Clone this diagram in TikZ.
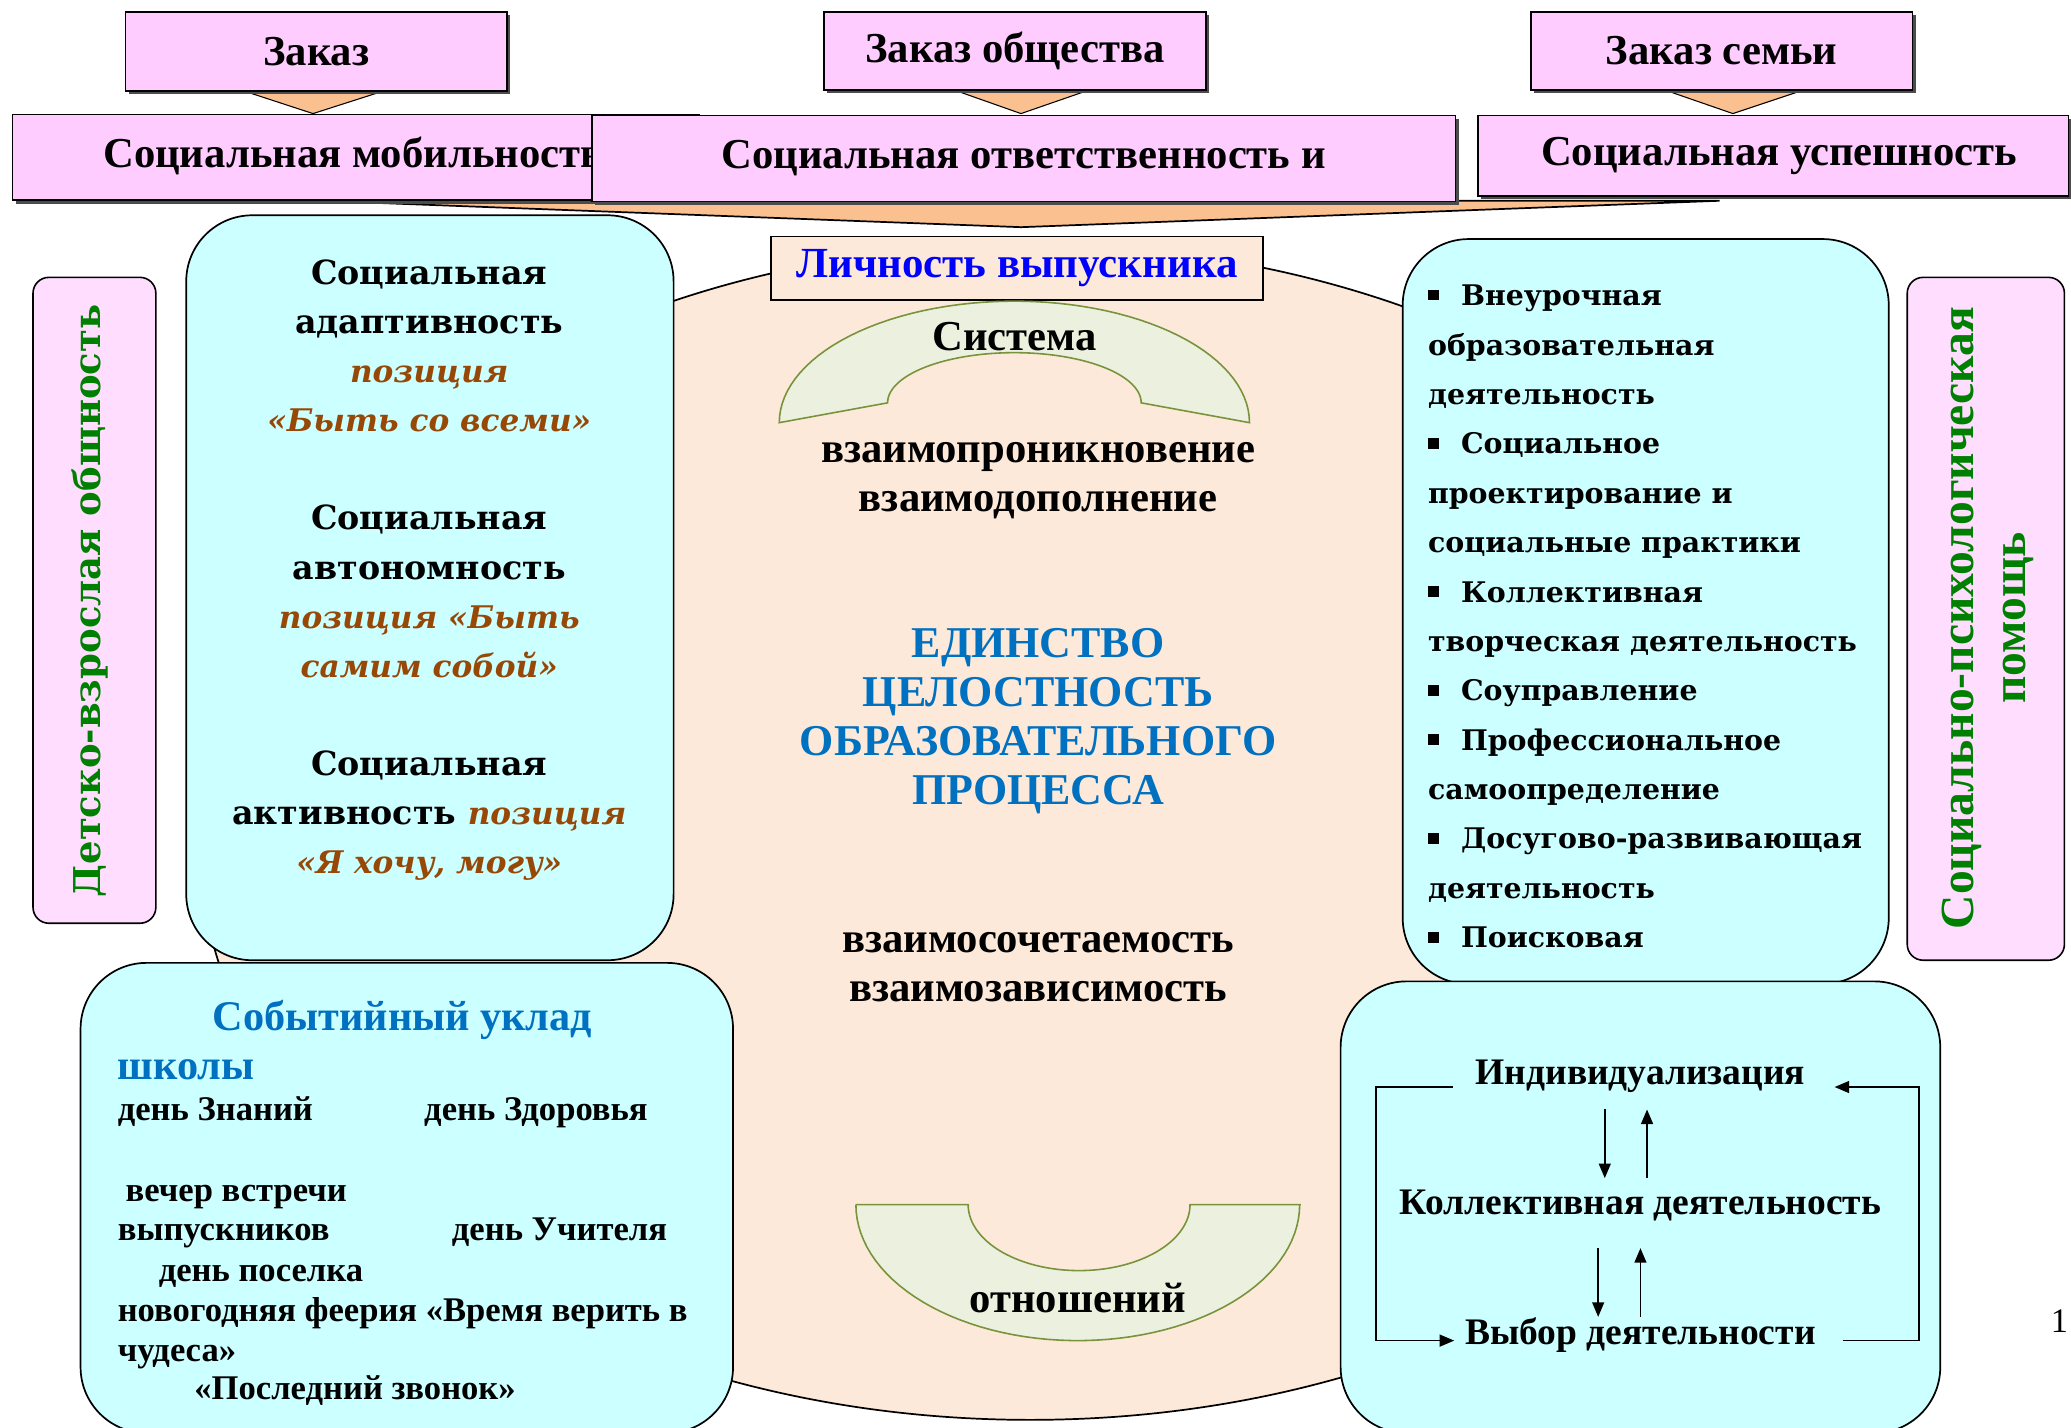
\documentclass[tikz,border=0pt]{standalone}
\usepackage{fontspec}
\setmainfont{Liberation Serif}
\newfontfamily\bkf{DejaVu Serif}
\usetikzlibrary{arrows.meta,shadows}
\definecolor{pinkT}{HTML}{FFCCFF}
\definecolor{pinkV}{HTML}{FFDDFF}
\definecolor{orng}{HTML}{FAC08F}
\definecolor{peach}{HTML}{FDE9D9}
\definecolor{cyanB}{HTML}{CCFFFF}
\definecolor{archF}{HTML}{EBF1DE}
\definecolor{archD}{HTML}{77933C}
\definecolor{blueA}{HTML}{0000FF}
\definecolor{blueB}{HTML}{0070C0}
\definecolor{brn}{HTML}{984806}
\definecolor{grn}{HTML}{008000}
\newcommand{\fHd}{\bfseries\fontsize{32.3}{37}\selectfont}
\newcommand{\sT}{\strut}
\newcommand{\pz}{\color{brn}\itshape\fontsize{23.6}{37.2}\selectfont}
\newcommand{\bul}{\strut\makebox[25pt][l]{\rule[4pt]{8pt}{8pt}}}
\begin{document}
\begin{tikzpicture}[x=1pt,y=-1pt,
  hdbox/.style={draw=black,line width=1.2pt,fill=pinkT,inner sep=0pt,font=\fHd,
     drop shadow={shadow xshift=2.5pt,shadow yshift=-2.5pt,fill=black!70,opacity=1}},
  cyanbox/.style={draw=black,line width=1.3pt,fill=cyanB,rounded corners=50pt,inner sep=0pt},
  vbox/.style={draw=black,line width=1.2pt,fill=pinkV,rounded corners=12pt,inner sep=0pt},
  tri/.style={draw=black,line width=0.8pt,fill=orng},
  arch/.style={draw=archD,line width=1.2pt,fill=archF},
  arr/.style={line width=1.3pt,-{Triangle[length=11pt,width=9pt]}},
  ev/.style={anchor=west,inner sep=0pt,font=\bfseries\fontsize{26.2}{30}\selectfont,text height=20pt,text depth=5pt},
  evh/.style={anchor=west,inner sep=0pt,font=\bfseries\fontsize{32}{37}\selectfont,text=blueB,text height=25pt,text depth=5pt},
  ctr/.style={inner sep=0pt,align=center,font=\fHd},
  cyc/.style={inner sep=0pt,font=\bfseries\fontsize{28.4}{34}\selectfont}
]
\useasboundingbox (0,0) rectangle (1568,1081);
\fill[white] (0,0) rectangle (1568,1081);

% vertical side boxes
\node[vbox,minimum width=93pt,minimum height=489pt] (vL) at (71.5,454.5) {};
\node[rotate=90,inner sep=0pt,text=grn,font=\bkf\bfseries\fontsize{28}{34}\selectfont] (vLt) at (68,455) {Детско-взрослая общность};
\node[vbox,minimum width=119pt,minimum height=517pt] (vR) at (1503.5,468.5) {};
\node[rotate=90,inner sep=0pt,align=center,text=grn,font=\bfseries\fontsize{36}{40}\selectfont] (vRt) at (1505,468) {Социально-психологическая\\помощь};

% central ellipse
\draw[line width=1.3pt,fill=peach] (780,630) ellipse [x radius=630pt,y radius=445pt];

% triangles
\draw[tri] (185,69) -- (290,69) -- (237,86) -- cycle;
\draw[tri] (722,68) -- (825,68) -- (773,86) -- cycle;
\draw[tri] (1260,68) -- (1366,68) -- (1312,86) -- cycle;
\draw[tri,line width=1.3pt] (242,152) -- (1302,152) -- (773,172) -- cycle;

% top boxes
\node[hdbox,minimum width=289pt,minimum height=60pt] (zA) at (239.5,39) {Заказ};
\node[hdbox,minimum width=289pt,minimum height=59pt] (zB) at (768.5,38.5) {Заказ общества};
\node[hdbox,minimum width=289pt,minimum height=59pt] (zC) at (1303.5,38.5) {Заказ семьи};

% second row
\node[hdbox,minimum width=520pt,minimum height=65pt,anchor=north west] (rA) at (9,86) {};
\node[anchor=west,inner sep=0pt,font=\fHd] (rAt) at (78,118) {Социальная мобильность};
\node[hdbox,minimum width=654pt,minimum height=65pt] (rB) at (775,120) {Социальная ответственность и};
\node[hdbox,minimum width=447pt,minimum height=61pt] (rC) at (1342.5,118) {\hspace*{9pt}Социальная успешность};

% personality box
\node[draw=black,line width=1.3pt,fill=peach,minimum width=372pt,minimum height=48pt,inner sep=0pt,
  text=blueA,font=\bfseries\fontsize{32.5}{37}\selectfont] (lich) at (770,203) {Личность выпускника};

% arches
\draw[arch] plot[domain=180:360,samples=60,variable=\t] ({768+178*cos(\t)},{320+92*sin(\t)})
  -- (864,305) -- plot[domain=360:180,samples=60,variable=\t] ({768+96*cos(\t)},{305+38*sin(\t)}) -- cycle;
\node[ctr] (sys) at (768,255) {Система};
\draw[arch] (648,912) -- (733,912)
  -- plot[domain=180:0,samples=60,variable=\t] ({817+84*cos(\t)},{912+50*sin(\t)})
  -- (985,912) -- plot[domain=0:180,samples=60,variable=\t] ({816+168*cos(\t)},{912+103*sin(\t)}) -- cycle;
\node[ctr] (otn) at (816,983) {отношений};

% center texts
\node[ctr] (c1) at (786,361) {\sT взаимопроникновение\\\sT взаимодополнение};
\node[ctr,text=blueB,font=\bfseries\fontsize{33.3}{37}\selectfont] (c2) at (786,546) {\sT ЕДИНСТВО\\\sT ЦЕЛОСТНОСТЬ\\\sT ОБРАЗОВАТЕЛЬНОГО\\\sT ПРОЦЕССА};
\node[ctr] (c3) at (786,732) {\sT взаимосочетаемость\\\sT взаимозависимость};

% cyan boxes
\node[cyanbox,minimum width=369pt,minimum height=564pt] (cL) at (325.5,445) {};
\node[inner sep=0pt,align=center,font=\bkf\bfseries\fontsize{25.2}{37.2}\selectfont] (cLt) at (325,431)
 {\sT Социальная\\\sT адаптивность\\\sT{\pz позиция}\\\sT{\pz «Быть со всеми»}\\\sT\\
  \sT Социальная\\\sT автономность\\\sT{\pz позиция «Быть}\\\sT{\pz самим собой»}\\\sT\\
  \sT Социальная\\\sT активность {\pz позиция}\\\sT{\pz «Я хочу, могу»}};

\node[cyanbox,minimum width=368pt,minimum height=564pt] (cR) at (1246,463) {};
\node[anchor=west,inner sep=0pt,align=left,font=\bkf\bfseries\fontsize{21.5}{37.4}\selectfont] (cRt) at (1081,467)
 {\bul Внеурочная\\\sT образовательная\\\sT деятельность\\\bul Социальное\\\sT проектирование и\\\sT социальные практики\\
  \bul Коллективная\\\sT творческая деятельность\\\bul Соуправление\\\bul Профессиональное\\\sT самоопределение\\
  \bul Досугово-развивающая\\\sT деятельность\\\bul Поисковая};

\node[cyanbox,minimum width=494pt,minimum height=356pt] (cBL) at (308,907) {};
\node[evh] (e0) at (161,770) {Событийный уклад};
\node[evh] (e1) at (89,807) {школы};
\node[ev] (e2) at (89,841) {день Знаний};
\node[ev] (e3) at (321,841) {день Здоровья};
\node[ev] (e4) at (95,902) {вечер встречи};
\node[ev] (e5) at (89,932) {выпускников};
\node[ev] (e6) at (342,932) {день Учителя};
\node[ev] (e7) at (120,963) {день поселка};
\node[ev] (e8) at (89,993) {новогодняя феерия «Время верить в};
\node[ev] (e9) at (89,1023) {чудеса»};
\node[ev] (e10) at (147,1052) {«Последний звонок»};

\node[cyanbox,minimum width=454pt,minimum height=342pt] (cBR) at (1242,914) {};
\node[cyc] (ind) at (1242,815) {Индивидуализация};
\node[cyc] (kol) at (1242,913) {Коллективная деятельность};
\node[cyc] (vyb) at (1242,1011) {Выбор деятельности};

% arrows
\coordinate (a1s) at (1215,840); \coordinate (a1e) at (1215,892);
\coordinate (a2s) at (1247,892); \coordinate (a2e) at (1247,840);
\coordinate (a3s) at (1210,945); \coordinate (a3e) at (1210,997);
\coordinate (a4s) at (1242,997); \coordinate (a4e) at (1242,945);
\draw[arr] (a1s) -- (a1e);
\draw[arr] (a2s) -- (a2e);
\draw[arr] (a3s) -- (a3e);
\draw[arr] (a4s) -- (a4e);
\coordinate (lA) at (1100,823); \coordinate (lB) at (1042,823);
\coordinate (lC) at (1042,1015); \coordinate (lD) at (1101,1015);
\draw[arr] (lA) -- (lB) -- (lC) -- (lD);
\coordinate (rA1) at (1395,1015); \coordinate (rB1) at (1453,1015);
\coordinate (rC1) at (1453,823); \coordinate (rD1) at (1389,823);
\draw[arr] (rA1) -- (rB1) -- (rC1) -- (rD1);

% page number
\node[anchor=east,inner sep=0pt,font=\fontsize{26}{30}\selectfont] (pg) at (1566,1000) {1};
\end{tikzpicture}
\end{document}
